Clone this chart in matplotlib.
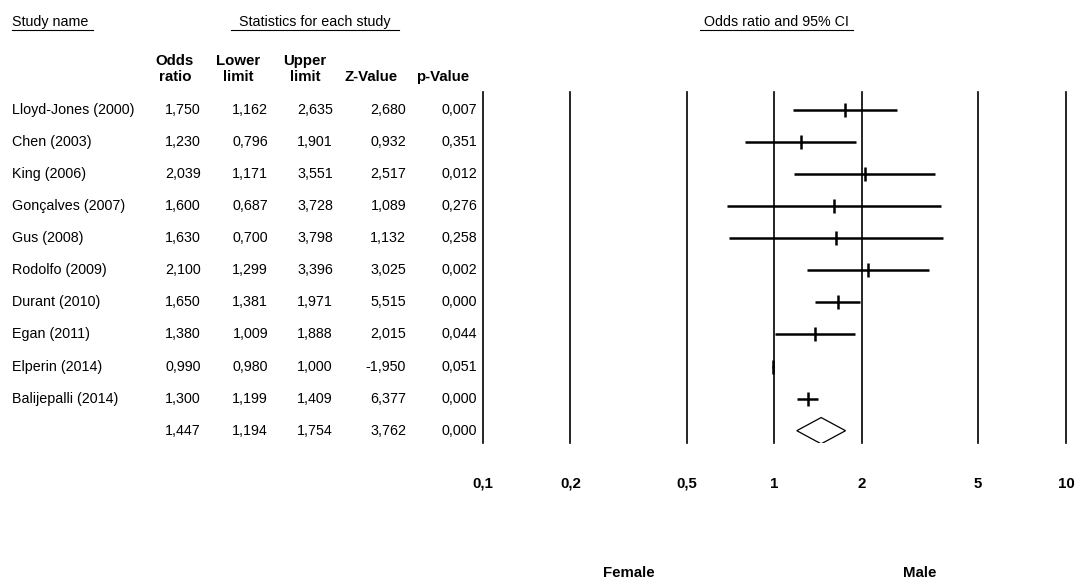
import numpy as np
import matplotlib
matplotlib.use("Agg")
import matplotlib.pyplot as plt
from matplotlib import transforms
from matplotlib.lines import Line2D
from matplotlib.patches import Polygon

plt.rcParams['font.family'] = ['Liberation Sans', 'DejaVu Sans']

# ---- study data ----
studies = ["Lloyd-Jones (2000)", "Chen (2003)", "King (2006)", "Gonçalves (2007)",
           "Gus (2008)", "Rodolfo (2009)", "Durant (2010)", "Egan (2011)",
           "Elperin (2014)", "Balijepalli (2014)"]
odds_ratio = [1.750, 1.230, 2.039, 1.600, 1.630, 2.100, 1.650, 1.380, 0.990, 1.300]
lower_limit = [1.162, 0.796, 1.171, 0.687, 0.700, 1.299, 1.381, 1.009, 0.980, 1.199]
upper_limit = [2.635, 1.901, 3.551, 3.728, 3.798, 3.396, 1.971, 1.888, 1.000, 1.409]
z_value = [2.680, 0.932, 2.517, 1.089, 1.132, 3.025, 5.515, 2.015, -1.950, 6.377]
p_value = [0.007, 0.351, 0.012, 0.276, 0.258, 0.002, 0.000, 0.044, 0.051, 0.000]

# pooled estimate
pooled_or = 1.447
pooled_lower = 1.194
pooled_upper = 1.754
pooled_z = 3.762
pooled_p = 0.000

scale_ticks = [0.1, 0.2, 0.5, 1, 2, 5, 10]
scale_labels = ["0,1", "0,2", "0,5", "1", "2", "5", "10"]
side_labels = ["Female", "Male"]

W, H = 1080, 581


def fx(px):
    return px / W


def fy(py):
    return 1 - py / H


def fmt(v):
    return f"{v:.3f}".replace(".", ",")


fig = plt.figure(figsize=(W / 100, H / 100), dpi=100)

# forest-plot axes (log odds-ratio scale)
ax_left, ax_right, ax_top, ax_bot = 482.7, 1066.0, 92.3, 443.3
ax = fig.add_axes([fx(ax_left), fy(ax_bot), (ax_right - ax_left) / W, (ax_bot - ax_top) / H])
ax.set_xscale("log")
ax.set_xlim(0.1, 10)
row0_px, row_step = 110.0, 32.07
ax.set_ylim((ax_bot - row0_px) / row_step, (ax_top - row0_px) / row_step)
ax.axis("off")

for t in scale_ticks:
    ax.axvline(t, color="black", lw=1.2, clip_on=False, zorder=1)

rows = np.arange(len(studies))
ax.hlines(rows, lower_limit, upper_limit, color="black", lw=1.8, zorder=3)
ax.plot(odds_ratio, rows, linestyle="none", marker="|", markersize=10,
        markeredgewidth=1.8, color="black", zorder=4)

pooled_row = len(studies)
h = 0.41
diamond = Polygon([(pooled_lower, pooled_row), (pooled_or, pooled_row - h),
                   (pooled_upper, pooled_row), (pooled_or, pooled_row + h)],
                  closed=True, facecolor="white", edgecolor="black", lw=0.9, zorder=4)
ax.add_patch(diamond)

# ---- table text ----
row_tr = transforms.blended_transform_factory(fig.transFigure, ax.transData)
fs = 10.3
col_right = [201, 268, 333, 406, 477]
for i, name in enumerate(studies):
    fig.text(fx(12), i, name, transform=row_tr, ha="left", va="center", fontsize=fs)
    vals = [odds_ratio[i], lower_limit[i], upper_limit[i], z_value[i], p_value[i]]
    for xr, v in zip(col_right, vals):
        fig.text(fx(xr), i, fmt(v), transform=row_tr, ha="right", va="center", fontsize=fs)

for xr, v in zip(col_right, [pooled_or, pooled_lower, pooled_upper, pooled_z, pooled_p]):
    fig.text(fx(xr), pooled_row, fmt(v), transform=row_tr, ha="right", va="center", fontsize=fs)

# column headers
hfs = 10.8
col_center = [175, 238, 305, 371, 443]
headers = [("Odds", "ratio"), ("Lower", "limit"), ("Upper", "limit"), ("", "Z-Value"), ("", "p-Value")]
for xc, (top, bot) in zip(col_center, headers):
    if top:
        fig.text(fx(xc), fy(65), top, ha="center", va="baseline", fontsize=hfs, fontweight="bold")
    fig.text(fx(xc), fy(81), bot, ha="center", va="baseline", fontsize=hfs, fontweight="bold")

# section titles with underlines
titles = [("Study name", 12, 93, "left"),
          ("Statistics for each study", 231, 399, "center"),
          ("Odds ratio and 95% CI", 700, 853, "center")]
for txt, x0, x1, ha in titles:
    xt = x0 if ha == "left" else (x0 + x1) / 2
    fig.text(fx(xt), fy(26), txt, ha=ha, va="baseline", fontsize=fs)
    fig.add_artist(Line2D([fx(x0), fx(x1)], [fy(29.5), fy(29.5)], color="black", lw=0.8))

# scale labels under the plot
tick_tr = transforms.blended_transform_factory(ax.transData, fig.transFigure)
for t, lab in zip(scale_ticks, scale_labels):
    fig.text(t, fy(488), lab, transform=tick_tr, ha="center", va="baseline",
             fontsize=hfs, fontweight="bold")

for xpos, lab in zip([10 ** -0.5, 10 ** 0.5], side_labels):
    fig.text(xpos, fy(577), lab, transform=tick_tr, ha="center", va="baseline",
             fontsize=hfs, fontweight="bold")

fig.savefig("out.png", dpi=100, facecolor="white")
